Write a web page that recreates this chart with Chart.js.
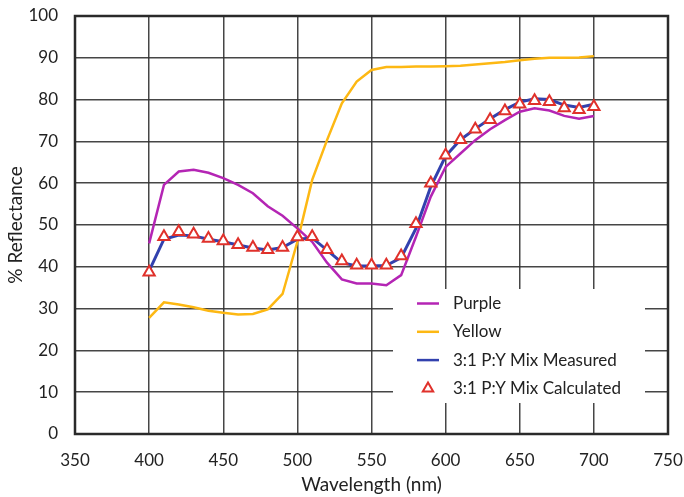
<!DOCTYPE html>
<html>
<head>
<meta charset="utf-8">
<script src="https://cdn.jsdelivr.net/npm/chart.js@4/dist/chart.umd.min.js"></script>
<style>
  html, body { margin: 0; padding: 0; background: #fff; }
  #wrap { width: 684px; height: 497px; }
</style>
</head>
<body>
<div id="wrap"><canvas id="c" width="684" height="497"></canvas></div>
<script>
// Wavelength samples (nm)
const wavelengths = [400, 410, 420, 430, 440, 450, 460, 470, 480, 490,
                     500, 510, 520, 530, 540, 550, 560, 570, 580, 590,
                     600, 610, 620, 630, 640, 650, 660, 670, 680, 690, 700];

// % reflectance of each sample
const purple = [45.6, 59.6, 62.8, 63.2, 62.5, 61.2, 59.6, 57.6, 54.5, 52.2,
                49.2, 46.0, 41.0, 37.0, 36.0, 36.0, 35.6, 38.0, 47.2, 56.8,
                63.9, 67.1, 70.3, 72.9, 75.1, 77.1, 77.9, 77.4, 76.1, 75.4, 76.1];

const yellow = [27.8, 31.5, 31.0, 30.3, 29.5, 29.0, 28.6, 28.7, 29.8, 33.5,
                46.0, 60.8, 70.3, 79.1, 84.3, 87.1, 87.8, 87.8, 87.9, 87.9,
                88.0, 88.1, 88.4, 88.7, 89.0, 89.4, 89.8, 90.0, 90.0, 90.1, 90.4];

const mixMeasured = [39.0, 46.6, 47.6, 47.4, 46.6, 46.0, 45.2, 44.5, 44.0, 44.6,
                     46.6, 46.9, 44.0, 41.0, 40.2, 40.2, 40.3, 42.2, 49.2, 59.2,
                     66.5, 70.4, 73.0, 75.4, 77.6, 79.4, 80.2, 80.0, 78.7, 78.1, 78.9];

const mixCalculated = [38.7, 47.2, 48.4, 47.8, 46.8, 46.2, 45.3, 44.6, 44.1, 44.6,
                       47.1, 47.2, 44.1, 41.4, 40.4, 40.4, 40.4, 42.6, 50.3, 60.0,
                       66.7, 70.4, 72.9, 75.2, 77.3, 78.9, 79.7, 79.5, 78.0, 77.6, 78.3];

const seriesLabels = ['Purple', 'Yellow', '3:1 P:Y Mix Measured', '3:1 P:Y Mix Calculated'];

const xTicks = [350, 400, 450, 500, 550, 600, 650, 700, 750];
const yTicks = [0, 10, 20, 30, 40, 50, 60, 70, 80, 90, 100];

const FONT = 'Lato, "Open Sans", sans-serif';
const TEXT = '#222222';
const GRID = 'rgba(50,50,50,0.9)';

const toPoints = (ys) => wavelengths.map((x, i) => ({ x, y: ys[i] }));

// White legend panel sitting inside the plot area, lower right
const legendPanel = {
  id: 'legendPanel',
  beforeDatasetsDraw(chart) {
    const { ctx, chartArea: a } = chart;
    const box = { l: a.right - 275, r: a.right - 23, t: a.top + 273, b: a.bottom - 31 };
    ctx.save();
    ctx.fillStyle = '#ffffff';
    ctx.fillRect(box.l, box.t, box.r - box.l, box.b - box.t);
    // plot frame
    ctx.strokeStyle = '#2a2a2a';
    ctx.lineWidth = 2.5;
    ctx.strokeRect(a.left, a.top, a.right - a.left, a.bottom - a.top);
    ctx.restore();
  },
  afterDraw(chart) {
    const { ctx, chartArea: a } = chart;
    const l = a.right - 275;
    const t = a.top + 273;
    ctx.save();
    ctx.font = '17px ' + FONT;
    ctx.fillStyle = TEXT;
    ctx.textBaseline = 'middle';
    ctx.textAlign = 'left';
    chart.data.datasets.forEach((ds, i) => {
      const y = t + 14.5 + i * 28.3;
      const sx = l + 24, ex = l + 46;
      if (ds.showLine === false) {
        const cx = (sx + ex) / 2, r = 6;
        ctx.beginPath();
        ctx.moveTo(cx, y - r);
        ctx.lineTo(cx + r * 0.866, y + r * 0.5);
        ctx.lineTo(cx - r * 0.866, y + r * 0.5);
        ctx.closePath();
        ctx.fillStyle = '#ffffff';
        ctx.fill();
        ctx.strokeStyle = ds.pointBorderColor;
        ctx.lineWidth = 2;
        ctx.stroke();
      } else {
        ctx.beginPath();
        ctx.moveTo(sx, y);
        ctx.lineTo(ex, y);
        ctx.strokeStyle = ds.borderColor;
        ctx.lineWidth = 2.5;
        ctx.stroke();
      }
      ctx.fillStyle = TEXT;
      ctx.fillText(ds.label, l + 60, y);
    });
    ctx.restore();
  }
};

new Chart(document.getElementById('c'), {
  type: 'line',
  data: {
    datasets: [
      { label: seriesLabels[0], data: toPoints(purple), borderColor: '#B425B4', borderWidth: 2.5,
        pointRadius: 0, tension: 0, order: 3 },
      { label: seriesLabels[1], data: toPoints(yellow), borderColor: '#FDB813', borderWidth: 2.5,
        pointRadius: 0, tension: 0, order: 4 },
      { label: seriesLabels[2], data: toPoints(mixMeasured), borderColor: '#3241AE', borderWidth: 3,
        pointRadius: 0, tension: 0, order: 2 },
      { label: seriesLabels[3], data: toPoints(mixCalculated), showLine: false,
        pointStyle: 'triangle', pointRadius: 6.5, pointBorderWidth: 2,
        pointBorderColor: '#E0312B', pointBackgroundColor: '#ffffff', order: 1 }
    ]
  },
  options: {
    responsive: false,
    animation: false,
    events: [],
    layout: { padding: { left: 0, top: 16, right: 16, bottom: 0 } },
    plugins: { legend: { display: false }, tooltip: { enabled: false } },
    scales: {
      x: {
        type: 'linear',
        min: xTicks[0],
        max: xTicks[xTicks.length - 1],
        afterBuildTicks(scale) { scale.ticks = xTicks.map(v => ({ value: v })); },
        afterFit(scale) { scale.height = 63; scale.paddingLeft = 0; scale.paddingRight = 0; },
        border: { display: false },
        grid: { color: GRID, lineWidth: 1.5, drawTicks: false },
        ticks: { color: TEXT, font: { family: FONT, size: 17 }, padding: 16, maxRotation: 0 },
        title: { display: true, text: 'Wavelength (nm)', color: TEXT,
                 font: { family: FONT, size: 19 }, padding: { top: 0, bottom: 1 } }
      },
      y: {
        min: yTicks[0],
        max: yTicks[yTicks.length - 1],
        afterBuildTicks(scale) { scale.ticks = yTicks.map(v => ({ value: v })); },
        afterFit(scale) { scale.width = 75; scale.paddingTop = 0; scale.paddingBottom = 0; },
        border: { display: false },
        grid: { color: GRID, lineWidth: 1.5, drawTicks: false },
        ticks: { color: TEXT, font: { family: FONT, size: 17 }, padding: 17 },
        title: { display: true, text: '% Reflectance', color: TEXT,
                 font: { family: FONT, size: 19 }, padding: { top: 4, bottom: 0 } }
      }
    }
  },
  plugins: [legendPanel]
});
</script>
</body>
</html>
